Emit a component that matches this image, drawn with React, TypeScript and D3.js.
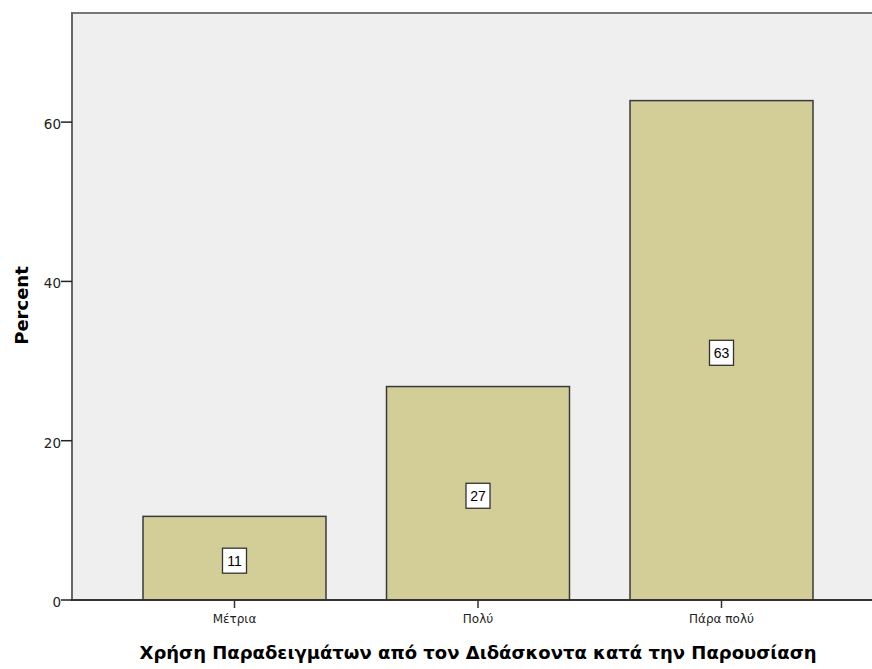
import React from "react";
import * as d3 from "d3";

const categories = ["Μέτρια", "Πολύ", "Πάρα πολύ"];
const percents = [10.5, 26.8, 62.7];
const barLabels = ["11", "27", "63"];
const yTicks = [0, 20, 40, 60];
const xTitle = "Χρήση Παραδειγμάτων από τον Διδάσκοντα κατά την Παρουσίαση";
const yTitle = "Percent";

const W = 872;
const H = 669;
const left = 72;
const right = 884;
const top = 13;
const bottom = 600;

export default function App() {
  const x = d3
    .scaleBand<string>()
    .domain(categories)
    .range([left, right])
    .paddingInner(0.2485)
    .paddingOuter(0.2916);
  const y = d3.scaleLinear().domain([0, 73.7]).range([bottom, top]);
  const font = "'DejaVu Sans', Verdana, sans-serif";
  const cx = (left + right) / 2;

  return (
    <svg
      width={W}
      height={H}
      style={{ position: "absolute", left: 0, top: 0, background: "#fff" }}
      fontFamily={font}
    >
      <rect x={left} y={top} width={right - left} height={bottom - top} fill="#EFEFEF" />
      <line x1={left} x2={right} y1={top} y2={top} stroke="#777" strokeWidth={2} />
      {categories.map((c, i) => {
        const x0 = x(c)!;
        const bw = x.bandwidth();
        const yt = y(percents[i]);
        const ym = y(percents[i] / 2) + 2.5;
        const xm = x0 + bw / 2;
        return (
          <g key={c}>
            <rect
              x={x0}
              y={yt}
              width={bw}
              height={bottom - yt}
              fill="#D3CE97"
              stroke="#3a3a3a"
              strokeWidth={1.5}
            />
            <rect
              x={xm - 12}
              y={ym - 12.5}
              width={24}
              height={25}
              fill="#fff"
              stroke="#333"
              strokeWidth={1.3}
            />
            <text
              x={xm}
              y={ym + 5}
              textAnchor="middle"
              fontSize={14}
              fontFamily="'Liberation Sans', Arial, sans-serif"
              fill="#000"
            >
              {barLabels[i]}
            </text>
            <line x1={xm} x2={xm} y1={bottom} y2={bottom + 8} stroke="#333" strokeWidth={1.5} />
            <text x={xm} y={bottom + 23} textAnchor="middle" fontSize={12} fill="#222">
              {c}
            </text>
          </g>
        );
      })}
      <line x1={left} x2={left} y1={top - 1} y2={bottom} stroke="#666" strokeWidth={2} />
      <line x1={left - 1} x2={right} y1={bottom} y2={bottom} stroke="#333" strokeWidth={2} />
      {yTicks.map((t) => (
        <g key={t}>
          <line x1={left - 11} x2={left} y1={y(t)} y2={y(t)} stroke="#222" strokeWidth={1.5} />
          <text x={left - 11} y={y(t) + 7} textAnchor="end" fontSize={13.5} fill="#222">
            {t}
          </text>
        </g>
      ))}
      <text
        x={cx}
        y={659}
        textAnchor="middle"
        fontSize={18}
        fontWeight="bold"
        fill="#000"
        textLength={677}
        lengthAdjust="spacing"
      >
        {xTitle}
      </text>
      <text
        transform={`translate(28, ${(top + bottom) / 2 - 1}) rotate(-90)`}
        textAnchor="middle"
        fontSize={18}
        fontWeight="bold"
        fill="#000"
      >
        {yTitle}
      </text>
    </svg>
  );
}
